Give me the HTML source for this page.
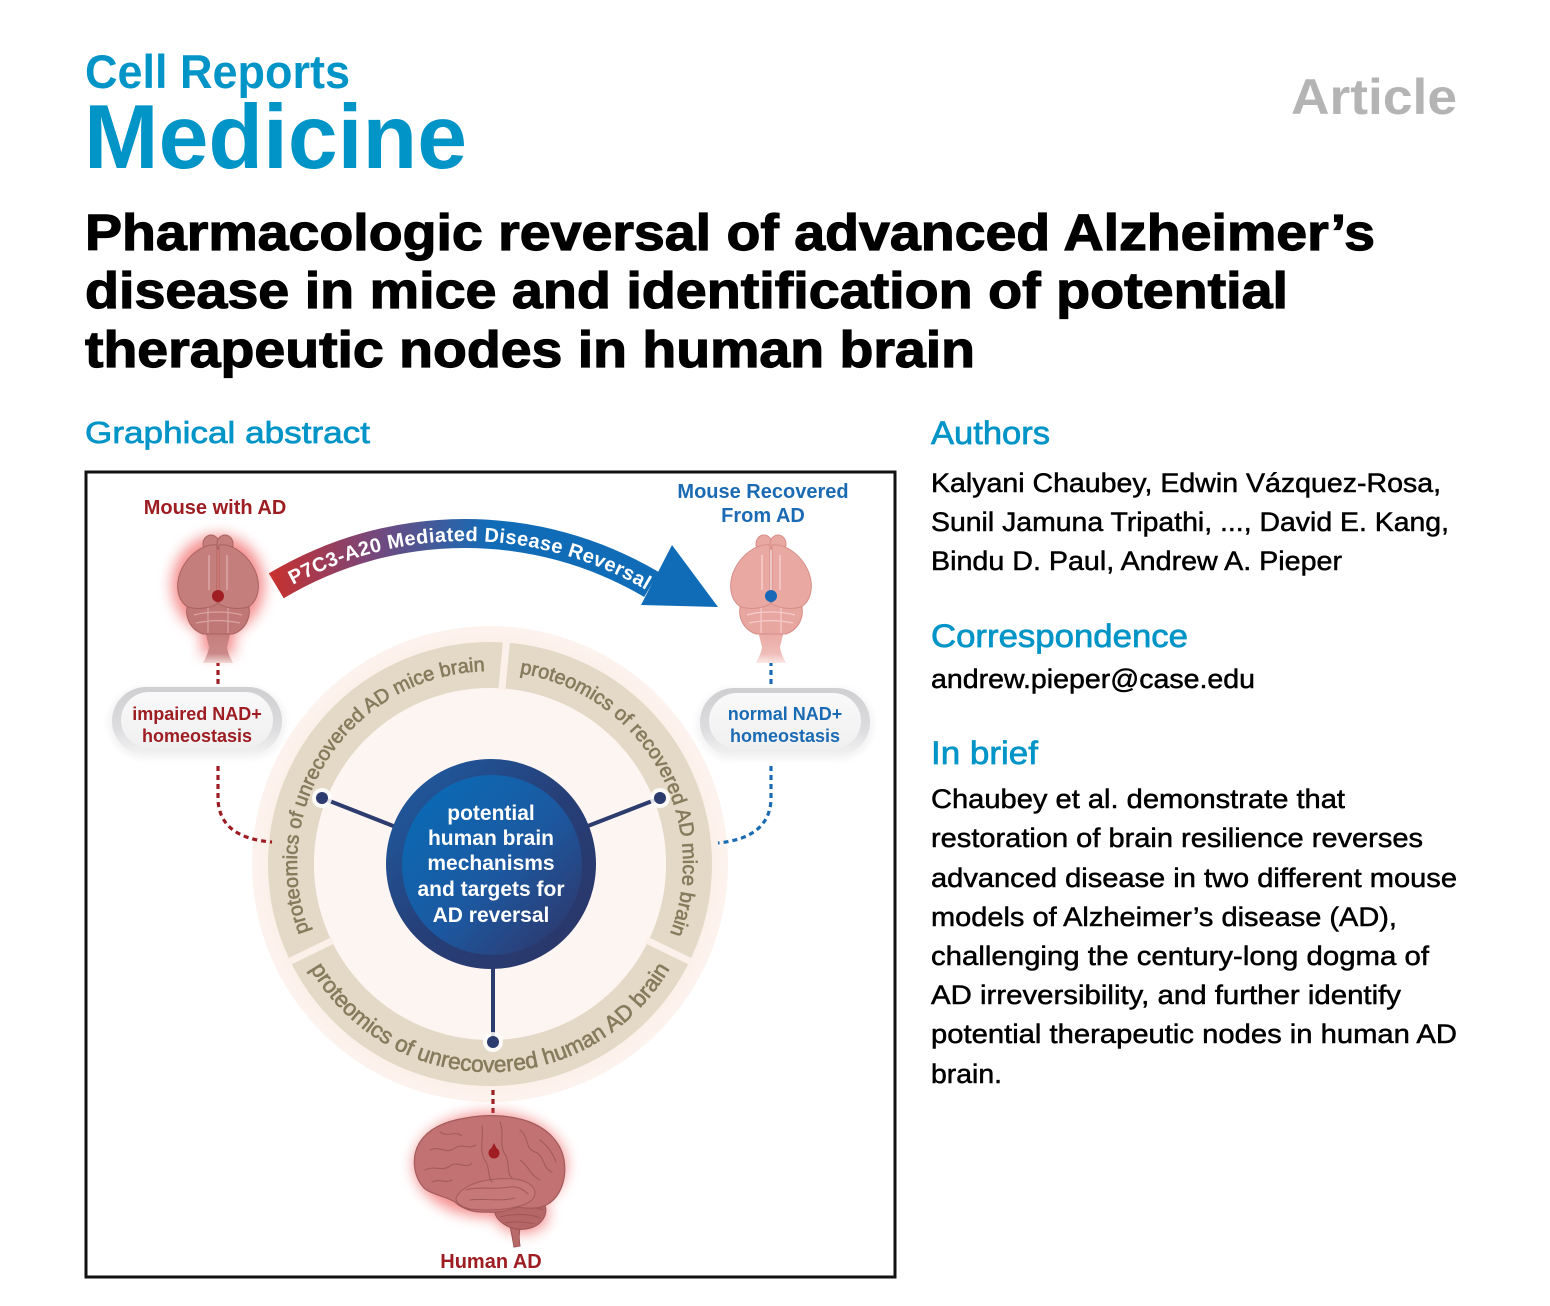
<!DOCTYPE html>
<html>
<head>
<meta charset="utf-8">
<style>
html,body{margin:0;padding:0;background:#fff;}
svg{display:block;}
</style>
</head>
<body>
<svg width="1550" height="1306" viewBox="0 0 1550 1306" xmlns="http://www.w3.org/2000/svg" font-family="'Liberation Sans', Arial, sans-serif">
<defs>
  <filter id="glow" x="-60%" y="-60%" width="220%" height="220%">
    <feGaussianBlur stdDeviation="7"/>
  </filter>
  <filter id="soft" x="-20%" y="-20%" width="140%" height="140%">
    <feGaussianBlur stdDeviation="3"/>
  </filter>
  <linearGradient id="arrowGrad" gradientUnits="userSpaceOnUse" x1="270" y1="0" x2="490" y2="0">
    <stop offset="0" stop-color="#c8302d"/>
    <stop offset="0.45" stop-color="#7a4679"/>
    <stop offset="1" stop-color="#116cb8"/>
  </linearGradient>
  <linearGradient id="pillOuter" x1="0" y1="0" x2="0" y2="1">
    <stop offset="0" stop-color="#cfcfd2"/>
    <stop offset="0.6" stop-color="#dcdcde"/>
    <stop offset="1" stop-color="#f3f3f4"/>
  </linearGradient>
  <linearGradient id="pillInner" x1="0" y1="0" x2="0" y2="1">
    <stop offset="0" stop-color="#f9f9fa"/>
    <stop offset="1" stop-color="#f0f0f1"/>
  </linearGradient>
  <linearGradient id="coreOuter" x1="0" y1="0" x2="1" y2="1">
    <stop offset="0" stop-color="#1e5fa6"/>
    <stop offset="0.5" stop-color="#263f78"/>
    <stop offset="1" stop-color="#2b3566"/>
  </linearGradient>
  <linearGradient id="coreInner" x1="0.1" y1="0.1" x2="0.9" y2="0.9">
    <stop offset="0" stop-color="#0a6ab5"/>
    <stop offset="0.55" stop-color="#1c58a0"/>
    <stop offset="1" stop-color="#2d3a70"/>
  </linearGradient>
  <radialGradient id="paleDisc" cx="0.5" cy="0.5" r="0.5">
    <stop offset="0.9" stop-color="#fcefe8"/>
    <stop offset="1" stop-color="#fdf3ee"/>
  </radialGradient>
  <linearGradient id="stemFadeL" x1="0" y1="0" x2="0" y2="1">
    <stop offset="0" stop-color="#c47e7c"/>
    <stop offset="0.7" stop-color="#c98886"/>
    <stop offset="1" stop-color="#f2d8d6"/>
  </linearGradient>
  <linearGradient id="stemFadeR" x1="0" y1="0" x2="0" y2="1">
    <stop offset="0" stop-color="#eaa8a3"/>
    <stop offset="0.7" stop-color="#efbcb7"/>
    <stop offset="1" stop-color="#fbe9e7"/>
  </linearGradient>
  <path id="arcUL" d="M316.5,948.6 A193,193 0 0 1 503.5,671.5"/>
  <path id="arcUR" d="M503.5,671.5 A193,193 0 0 1 663.5,948.6"/>
  <path id="arcB" d="M303,955.2 A208,208 0 0 0 677,955.2"/>
  <path id="arcArrow" d="M280.1,592.3 A359,359 0 0 1 665.7,602.4"/>
</defs>

<!-- ================= HEADER ================= -->
<text x="85" y="88" font-size="47" font-weight="bold" fill="#0094c7" textLength="265" lengthAdjust="spacingAndGlyphs">Cell Reports</text>
<text x="84" y="168" font-size="91" font-weight="bold" fill="#0094c7" textLength="383" lengthAdjust="spacingAndGlyphs">Medicine</text>
<text x="1291" y="114" font-size="50" font-weight="bold" fill="#b4b4b4" textLength="166" lengthAdjust="spacingAndGlyphs">Article</text>

<g font-size="51" font-weight="bold" fill="#000" stroke="#000" stroke-width="1.2">
  <text x="85" y="250" textLength="1290" lengthAdjust="spacingAndGlyphs">Pharmacologic reversal of advanced Alzheimer’s</text>
  <text x="85" y="308" textLength="1203" lengthAdjust="spacingAndGlyphs">disease in mice and identification of potential</text>
  <text x="85" y="367" textLength="890" lengthAdjust="spacingAndGlyphs">therapeutic nodes in human brain</text>
</g>

<text x="85" y="443" font-size="31" fill="#0094c7" stroke="#0094c7" stroke-width="0.7" textLength="285" lengthAdjust="spacingAndGlyphs">Graphical abstract</text>

<!-- ================= RIGHT COLUMN ================= -->
<g fill="#0094c7" stroke="#0094c7" stroke-width="0.7" font-size="32">
  <text x="931" y="444" textLength="119" lengthAdjust="spacingAndGlyphs">Authors</text>
  <text x="931" y="647" textLength="257" lengthAdjust="spacingAndGlyphs">Correspondence</text>
  <text x="931" y="764" textLength="107" lengthAdjust="spacingAndGlyphs">In brief</text>
</g>
<g fill="#000" stroke="#000" stroke-width="0.5" font-size="27">
  <text x="931" y="492" textLength="510" lengthAdjust="spacingAndGlyphs">Kalyani Chaubey, Edwin Vázquez-Rosa,</text>
  <text x="931" y="531" textLength="518" lengthAdjust="spacingAndGlyphs">Sunil Jamuna Tripathi, ..., David E. Kang,</text>
  <text x="931" y="570" textLength="411" lengthAdjust="spacingAndGlyphs">Bindu D. Paul, Andrew A. Pieper</text>
  <text x="931" y="688" textLength="324" lengthAdjust="spacingAndGlyphs">andrew.pieper@case.edu</text>
  <text x="931" y="808" textLength="414" lengthAdjust="spacingAndGlyphs">Chaubey et al. demonstrate that</text>
  <text x="931" y="847" textLength="492" lengthAdjust="spacingAndGlyphs">restoration of brain resilience reverses</text>
  <text x="931" y="887" textLength="526" lengthAdjust="spacingAndGlyphs">advanced disease in two different mouse</text>
  <text x="931" y="926" textLength="466" lengthAdjust="spacingAndGlyphs">models of Alzheimer’s disease (AD),</text>
  <text x="931" y="965" textLength="498" lengthAdjust="spacingAndGlyphs">challenging the century-long dogma of</text>
  <text x="931" y="1004" textLength="470" lengthAdjust="spacingAndGlyphs">AD irreversibility, and further identify</text>
  <text x="931" y="1043" textLength="526" lengthAdjust="spacingAndGlyphs">potential therapeutic nodes in human AD</text>
  <text x="931" y="1083" textLength="71" lengthAdjust="spacingAndGlyphs">brain.</text>
</g>

<!-- ================= GRAPHICAL ABSTRACT BOX ================= -->
<rect x="86" y="472" width="809" height="805" fill="#fff" stroke="#111" stroke-width="3"/>

<!-- Top labels -->
<text x="215" y="514" font-size="20" font-weight="bold" fill="#9d1d22" text-anchor="middle">Mouse with AD</text>
<g font-size="20" font-weight="bold" fill="#1b6bb4" text-anchor="middle">
  <text x="763" y="498">Mouse Recovered</text>
  <text x="763" y="522">From AD</text>
</g>

<!-- Curved arrow -->
<path d="M268.8,573.4 A381,381 0 0 1 658.9,572.1 L644.2,597 A352,352 0 0 0 283.7,598.3 Z" fill="url(#arrowGrad)"/>
<polygon points="672,545 718,607 641,605" fill="#116cb8"/>
<text font-size="20" font-weight="bold" fill="#fff" letter-spacing="0.4">
  <textPath href="#arcArrow" startOffset="49%" text-anchor="middle">P7C3-A20 Mediated Disease Reversal</textPath>
</text>

<!-- Big disc -->
<circle cx="490" cy="864" r="238" fill="url(#paleDisc)"/>
<circle cx="490" cy="864" r="199" fill="none" stroke="#e4d9c6" stroke-width="46"/>
<circle cx="490" cy="864" r="176" fill="#fdf5f1"/>
<!-- gaps -->
<g stroke="#fcf0ea" stroke-width="7">
  <line x1="501.8" y1="690" x2="506.5" y2="641"/>
  <line x1="333.6" y1="940" x2="289.5" y2="961.5"/>
  <line x1="646.4" y1="940" x2="690.5" y2="961.5"/>
</g>

<!-- ring texts -->
<g fill="#867b5d" stroke="#867b5d" stroke-width="0.6">
  <text font-size="20"><textPath href="#arcUL" startOffset="50%" text-anchor="middle">proteomics of unrecovered AD mice brain</textPath></text>
  <text font-size="20"><textPath href="#arcUR" startOffset="50%" text-anchor="middle">proteomics of recovered AD mice brain</textPath></text>
  <text font-size="22.5"><textPath href="#arcB" startOffset="50%" text-anchor="middle">proteomics of unrecovered human AD brain</textPath></text>
</g>

<!-- spokes -->
<g stroke="#2d3c6e" stroke-width="4" stroke-linecap="round">
  <line x1="490" y1="864" x2="322" y2="798"/>
  <line x1="490" y1="864" x2="660" y2="798"/>
  <line x1="493" y1="864" x2="493" y2="1042"/>
</g>
<g fill="#fff" opacity="0.85">
  <circle cx="322" cy="798" r="10"/>
  <circle cx="660" cy="798" r="10"/>
  <circle cx="493" cy="1042" r="10"/>
</g>
<g fill="#2d3c6e">
  <circle cx="322" cy="798" r="6"/>
  <circle cx="660" cy="798" r="6"/>
  <circle cx="493" cy="1042" r="6"/>
</g>

<!-- Core circle -->
<circle cx="491" cy="864" r="105" fill="url(#coreOuter)"/>
<circle cx="492" cy="865" r="90" fill="url(#coreInner)"/>
<g font-size="21" font-weight="bold" fill="#fff" text-anchor="middle">
  <text x="491" y="820">potential</text>
  <text x="491" y="845">human brain</text>
  <text x="491" y="870">mechanisms</text>
  <text x="491" y="896">and targets for</text>
  <text x="491" y="922">AD reversal</text>
</g>

<!-- Dotted connectors -->
<g fill="none" stroke-width="3.2" stroke-dasharray="5 4">
  <line x1="218" y1="598" x2="218" y2="686" stroke="#9d1d22"/>
  <path d="M218,766 L218,800 Q220,838 272,842" stroke="#9d1d22"/>
  <line x1="771" y1="598" x2="771" y2="687" stroke="#1b6bb4"/>
  <path d="M771,766 L771,800 Q769,838 718,843" stroke="#1b6bb4"/>
  <line x1="493" y1="1090" x2="493" y2="1150" stroke="#9d1d22"/>
</g>

<!-- Left mouse brain (AD) -->
<g transform="translate(218,535)">
  <g filter="url(#glow)" opacity="0.7" fill="#f05a5a">
    <ellipse cx="0" cy="50" rx="46" ry="50"/>
    <rect x="-16" y="90" width="32" height="30"/>
  </g>
  <path d="M-13,96 L13,96 L9,112 C10,120 14,125 15,128 L-15,128 C-14,125 -10,120 -9,112 Z" fill="url(#stemFadeL)"/>
  <path d="M-30,68 C-34,80 -29,94 -15,99 L15,99 C29,94 34,80 30,68 Z" fill="#c07876" stroke="#a9625f" stroke-width="1"/>
  <g fill="none" stroke="#d9a3a0" stroke-width="1.2">
    <path d="M-24,80 C-10,76 10,76 24,80"/>
    <path d="M-22,88 C-8,85 8,85 22,88"/>
    <path d="M-10,70 L-10,98 M10,70 L10,98"/>
  </g>
  <ellipse cx="-7" cy="9" rx="8" ry="9" fill="#c47e7c" stroke="#a9625f" stroke-width="1"/>
  <ellipse cx="7" cy="9" rx="8" ry="9" fill="#c47e7c" stroke="#a9625f" stroke-width="1"/>
  <path d="M-1,10 C-14,8 -31,20 -38,38 C-43,52 -40,66 -30,72 C-20,75 -8,73 -1,69 Z" fill="#c47e7c" stroke="#a9625f" stroke-width="1"/>
  <path d="M1,10 C14,8 31,20 38,38 C43,52 40,66 30,72 C20,75 8,73 1,69 Z" fill="#c47e7c" stroke="#a9625f" stroke-width="1"/>
  <line x1="-9" y1="20" x2="-9" y2="55" stroke="#dba9a6" stroke-width="1.5"/>
  <line x1="9" y1="20" x2="9" y2="55" stroke="#dba9a6" stroke-width="1.5"/>
  <circle cx="0" cy="61" r="6" fill="#a01d22"/>
</g>

<!-- Right mouse brain (recovered) -->
<g transform="translate(771,535)">
  <path d="M-13,96 L13,96 L9,112 C10,120 14,125 15,128 L-15,128 C-14,125 -10,120 -9,112 Z" fill="url(#stemFadeR)"/>
  <path d="M-30,68 C-34,80 -29,94 -15,99 L15,99 C29,94 34,80 30,68 Z" fill="#e8a6a1" stroke="#d78e89" stroke-width="1"/>
  <g fill="none" stroke="#f5cdca" stroke-width="1.2">
    <path d="M-24,80 C-10,76 10,76 24,80"/>
    <path d="M-22,88 C-8,85 8,85 22,88"/>
    <path d="M-10,70 L-10,98 M10,70 L10,98"/>
  </g>
  <ellipse cx="-7" cy="9" rx="8" ry="9" fill="#eaa8a3" stroke="#d78e89" stroke-width="1"/>
  <ellipse cx="7" cy="9" rx="8" ry="9" fill="#eaa8a3" stroke="#d78e89" stroke-width="1"/>
  <path d="M-1,10 C-14,8 -31,20 -38,38 C-43,52 -40,66 -30,72 C-20,75 -8,73 -1,69 Z" fill="#eaa8a3" stroke="#d78e89" stroke-width="1"/>
  <path d="M1,10 C14,8 31,20 38,38 C43,52 40,66 30,72 C20,75 8,73 1,69 Z" fill="#eaa8a3" stroke="#d78e89" stroke-width="1"/>
  <line x1="-9" y1="20" x2="-9" y2="55" stroke="#f6cfcb" stroke-width="1.5"/>
  <line x1="9" y1="20" x2="9" y2="55" stroke="#f6cfcb" stroke-width="1.5"/>
  <circle cx="0" cy="61" r="6" fill="#1769b7"/>
</g>

<!-- Pills -->
<g>
  <rect x="108" y="687" width="178" height="72" rx="36" fill="#f0f0f1" filter="url(#soft)" opacity="0.7"/>
  <rect x="112" y="687" width="170" height="68" rx="34" fill="url(#pillOuter)"/>
  <rect x="121" y="692" width="152" height="56" rx="28" fill="url(#pillInner)"/>
  <g font-size="18" font-weight="bold" fill="#9d1d22" text-anchor="middle">
    <text x="197" y="720">impaired NAD+</text>
    <text x="197" y="742">homeostasis</text>
  </g>
</g>
<g>
  <rect x="696" y="688" width="178" height="72" rx="36" fill="#f0f0f1" filter="url(#soft)" opacity="0.7"/>
  <rect x="700" y="688" width="170" height="68" rx="34" fill="url(#pillOuter)"/>
  <rect x="709" y="693" width="152" height="56" rx="28" fill="url(#pillInner)"/>
  <g font-size="18" font-weight="bold" fill="#1b6bb4" text-anchor="middle">
    <text x="785" y="720">normal NAD+</text>
    <text x="785" y="742">homeostasis</text>
  </g>
</g>

<!-- Human brain -->
<g>
  <g filter="url(#glow)" opacity="0.7" fill="#f05a5a">
    <ellipse cx="490" cy="1165" rx="76" ry="52"/>
    <ellipse cx="522" cy="1215" rx="26" ry="18"/>
  </g>
  <path d="M505,1212 C510,1222 512,1236 514,1247 L520,1246 C518,1234 520,1222 526,1212 Z" fill="#b86a69" stroke="#9c5453" stroke-width="1"/>
  <path d="M495,1205 C505,1197 530,1195 544,1203 C550,1214 541,1227 526,1229 C513,1231 499,1224 495,1214 Z" fill="#b56767" stroke="#9c5453" stroke-width="1"/>
  <g fill="none" stroke="#9c5453" stroke-width="0.9">
    <path d="M500,1210 C515,1206 532,1206 544,1210"/>
    <path d="M500,1217 C515,1213 530,1214 541,1218"/>
    <path d="M505,1223 C515,1221 527,1222 535,1224"/>
  </g>
  <path d="M424,1188 C413,1176 411,1156 420,1142 C429,1128 446,1121 466,1118 C486,1114 508,1115 527,1121 C547,1128 561,1142 564,1160 C567,1178 561,1196 548,1204 C540,1209 528,1209 518,1207 C508,1211 498,1213 488,1212 C474,1213 462,1209 455,1202 C446,1196 432,1195 424,1188 Z" fill="#c27272" stroke="#a45b5b" stroke-width="1.2"/>
  <path d="M456,1198 C462,1184 488,1177 514,1179 C531,1181 540,1190 532,1200 C522,1208 496,1212 470,1209 C462,1207 456,1204 456,1198 Z" fill="#c67878" stroke="#a45b5b" stroke-width="1"/>
  <g fill="none" stroke="#a45b5b" stroke-width="1.1" stroke-linecap="round">
    <path d="M430,1150 C440,1145 445,1155 455,1148 C462,1143 468,1150 476,1145"/>
    <path d="M425,1170 C435,1165 442,1172 450,1166 C458,1160 465,1170 472,1163"/>
    <path d="M440,1132 C448,1138 455,1130 462,1136"/>
    <path d="M482,1125 C484,1140 478,1150 486,1162 C490,1170 488,1178 492,1182"/>
    <path d="M500,1122 C505,1135 498,1145 506,1156 C510,1165 506,1172 512,1178"/>
    <path d="M520,1130 C530,1138 524,1148 535,1152 C545,1156 542,1168 552,1172"/>
    <path d="M540,1140 C548,1146 552,1152 556,1162"/>
    <path d="M520,1160 C528,1165 530,1175 540,1180"/>
    <path d="M466,1190 C480,1186 495,1190 510,1187 C518,1186 524,1190 528,1194"/>
    <path d="M470,1200 C485,1198 500,1202 515,1198"/>
    <path d="M432,1182 C440,1178 446,1184 452,1180"/>
  </g>
  <circle cx="494" cy="1153" r="5.5" fill="#a01d22"/>
  <path d="M490,1151 L494,1143 L498,1151 Z" fill="#a01d22"/>
</g>
<text x="491" y="1268" font-size="20" font-weight="bold" fill="#9d1d22" text-anchor="middle">Human AD</text>

</svg>
</body>
</html>
